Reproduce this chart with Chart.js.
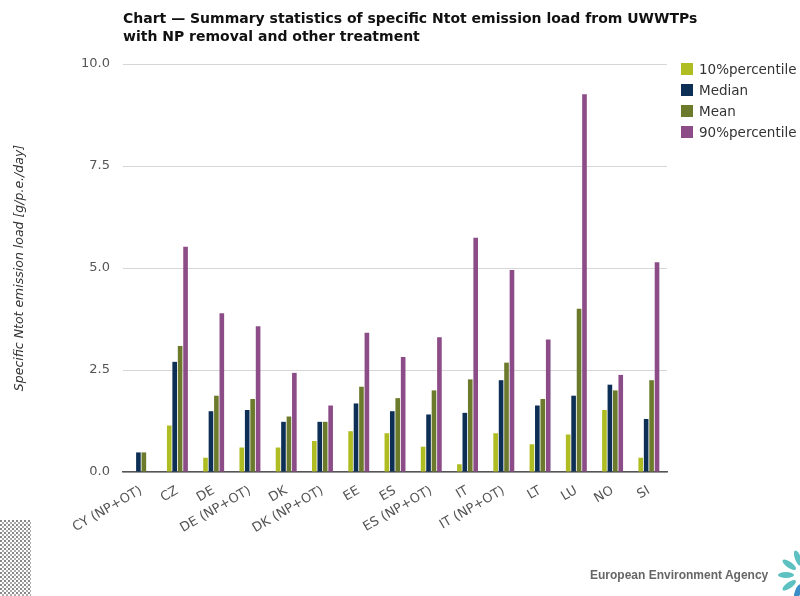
<!DOCTYPE html>
<html>
<head>
<meta charset="utf-8">
<script src="https://cdn.jsdelivr.net/npm/chart.js@4"></script>
<style>
  html, body { margin: 0; padding: 0; background: #fff; overflow: hidden; }
  #wrap { position: relative; width: 800px; height: 596px; }
  #chart { position: absolute; left: 0; top: 0; }
  .title {
    position: absolute; left: 123px; top: 9px;
    font: bold 14px "DejaVu Sans", sans-serif; line-height: 18px; color: #111;
  }
  .legend { position: absolute; left: 681px; top: 63px; font: 13.5px "DejaVu Sans", sans-serif; color: #333; white-space: nowrap; }
  .legend div { height: 21px; line-height: 12px; }
  .legend span { display: inline-block; width: 12px; height: 12px; margin-right: 6px; vertical-align: top; }
  .eea { position: absolute; left: 590px; top: 568px; font: bold 12px "Liberation Sans", sans-serif; color: #666; }
</style>
</head>
<body>
<div id="wrap">
  <canvas id="chart" width="800" height="596"></canvas>
  <div class="title">Chart — Summary statistics of specific Ntot emission load from UWWTPs<br>with NP removal and other treatment</div>
  <div class="legend" id="legend"></div>
  <div class="eea">European Environment Agency</div>
  <svg style="position:absolute;left:0;top:520px" width="31" height="76">
    <defs>
      <pattern id="qr" width="4" height="4" patternUnits="userSpaceOnUse">
        <rect width="2" height="2" fill="#888"/><rect x="2" y="2" width="2" height="2" fill="#aaa"/>
      </pattern>
    </defs>
    <rect width="31" height="76" fill="url(#qr)"/>
  </svg>
  <svg style="position:absolute;left:770px;top:548px" width="30" height="48">
    <g transform="translate(34,27)" fill="#5cc1c0">
      <ellipse cx="0" cy="-18" rx="3" ry="8" transform="rotate(-20)"/>
      <ellipse cx="0" cy="-18" rx="3" ry="8" transform="rotate(-55)"/>
      <ellipse cx="0" cy="-18" rx="3" ry="8" transform="rotate(-90)"/>
      <ellipse cx="0" cy="-18" rx="3" ry="8" transform="rotate(-125)"/>
      <ellipse cx="0" cy="-18" rx="3" ry="8" transform="rotate(-160)" fill="#3a8fc8"/>
    </g>
  </svg>
</div>
<script>
const categories = ['CY (NP+OT)', 'CZ', 'DE', 'DE (NP+OT)', 'DK', 'DK (NP+OT)', 'EE', 'ES',
  'ES (NP+OT)', 'IT', 'IT (NP+OT)', 'LT', 'LU', 'NO', 'SI'];

const p10    = [null, 1.14, 0.35, 0.60, 0.60, 0.76, 1.00, 0.95, 0.62, 0.19, 0.95, 0.68, 0.92, 1.52, 0.35];
const median = [0.48, 2.70, 1.49, 1.52, 1.23, 1.23, 1.68, 1.49, 1.41, 1.45, 2.25, 1.63, 1.87, 2.14, 1.30];
const mean   = [0.48, 3.09, 1.87, 1.79, 1.36, 1.23, 2.09, 1.81, 2.00, 2.27, 2.68, 1.79, 4.00, 2.00, 2.25];
const p90    = [null, 5.52, 3.89, 3.57, 2.43, 1.63, 3.41, 2.82, 3.30, 5.74, 4.95, 3.25, 9.26, 2.38, 5.14];

const yTicks = [0, 2.5, 5, 7.5, 10];

const seriesNames = ['10%percentile', 'Median', 'Mean', '90%percentile'];
const COLORS = ['#afbd22', '#0d2f56', '#6c7b2b', '#8b4c87'];
const seriesData = [p10, median, mean, p90];

const legend = document.getElementById('legend');
legend.innerHTML = seriesNames.map((n, i) =>
  `<div><span style="background:${COLORS[i]}"></span>${n}</div>`).join('');

const FONT = 'DejaVu Sans, sans-serif';

new Chart(document.getElementById('chart'), {
  type: 'bar',
  data: {
    labels: categories,
    datasets: seriesNames.map((n, i) => ({
      label: n,
      data: seriesData[i],
      backgroundColor: COLORS[i],
      borderWidth: 0,
      barPercentage: 0.85,
      categoryPercentage: 0.6,
    })),
  },
  options: {
    responsive: false,
    animation: false,
    layout: { padding: { left: 0, right: 133, top: 64, bottom: 0 } },
    plugins: { legend: { display: false }, tooltip: { enabled: false } },
    scales: {
      x: {
        grid: { display: false, drawTicks: false },
        border: { display: true, color: '#555', width: 1.5 },
        ticks: {
          autoSkip: false, maxRotation: 30, minRotation: 30, padding: 11,
          color: '#555', font: { family: FONT, size: 13 },
        },
        afterFit: s => { s.height = 124; },
      },
      y: {
        min: 0, max: 10,
        afterBuildTicks: s => { s.ticks = yTicks.map(v => ({ value: v })); },
        grid: { color: '#d6d6d6', drawTicks: false },
        border: { display: false },
        ticks: {
          padding: 13, color: '#555', font: { family: FONT, size: 13 },
          callback: v => Number(v).toFixed(1),
        },
        title: {
          display: true, text: 'Specific Ntot emission load [g/p.e./day]',
          color: '#333', font: { family: FONT, size: 12.5, style: 'italic' },
          padding: { top: 12, bottom: 0 },
        },
        afterFit: s => { s.width = 123; },
      },
    },
  },
});
</script>
</body>
</html>
